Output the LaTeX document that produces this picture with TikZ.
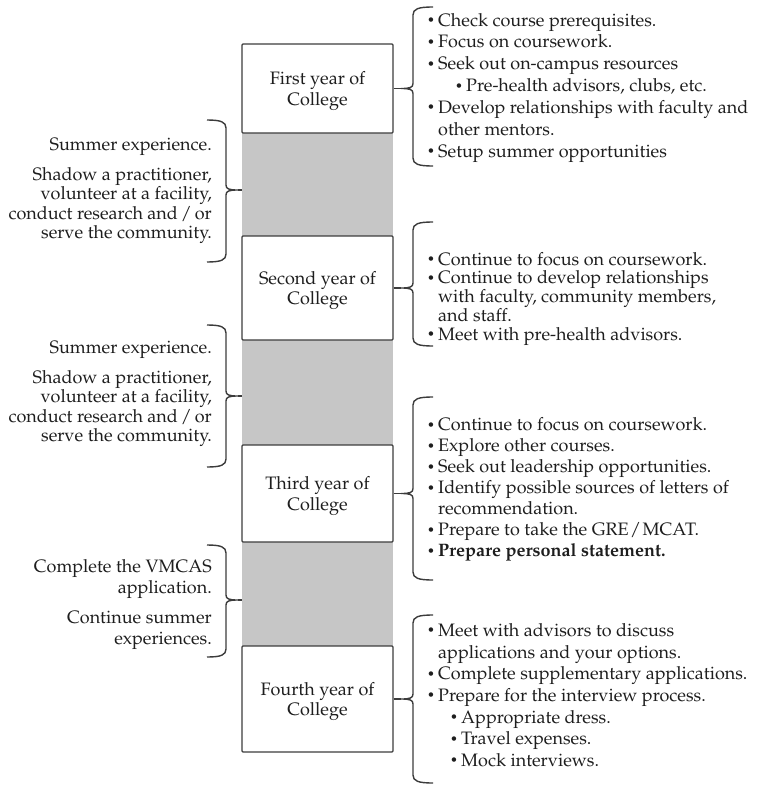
\documentclass[tikz,border=0pt]{standalone}
\usepackage[T1]{fontenc}
\usepackage{mathpazo}
\usepackage{graphicx}
\definecolor{gapgray}{HTML}{C6C6C6}
\definecolor{linegray}{HTML}{3C3C3C}
\definecolor{txt}{HTML}{1E1E1E}
\newcommand{\bul}{\strut\makebox[11pt][l]{\raisebox{0.2ex}{\scalebox{0.72}{\textbullet}}}}
\newcommand{\sbul}{\strut\makebox[11pt][l]{\raisebox{0.2ex}{\scalebox{0.72}{\textbullet}}}}
\newcommand{\ind}{\strut\hspace*{11pt}}
\newcommand{\ts}{\hspace{3pt}}
\newcommand{\RBrace}[4]{%
  \draw[bracestyle] (433,#1) .. controls (418,#1) and (413,#1+2) .. (413,#1+8)
    -- (413,#2-5) .. controls (413,#2-1) and (410,#2) .. (401,#2)
    .. controls (410,#2) and (413,#2+1) .. (413,#2+5)
    -- (413,#3-8) .. controls (413,#3-2) and (418,#3) .. (433,#3);
  \coordinate (#4) at (401,#2);}
\newcommand{\LBrace}[4]{%
  \draw[bracestyle] (207,#1) .. controls (221,#1) and (226,#1+2) .. (226,#1+8)
    -- (226,#2-5) .. controls (226,#2-1) and (229,#2) .. (238,#2)
    .. controls (229,#2) and (226,#2+1) .. (226,#2+5)
    -- (226,#3-8) .. controls (226,#3-2) and (221,#3) .. (207,#3);
  \coordinate (#4) at (238,#2);}
\begin{document}
\begin{tikzpicture}[x=1pt,y=-1pt,
  yearbox/.style={draw=linegray, fill=white, line width=1.1pt, rounded corners=1pt,
    minimum width=151pt, inner sep=0pt, align=center, text=txt, text depth=-3pt,
    font=\fontsize{18}{20.5}\selectfont},
  gapbox/.style={fill=gapgray, draw=none, minimum width=151pt, inner sep=0pt},
  bracestyle/.style={draw=linegray, line width=1.4pt},
  conn/.style={draw=linegray, line width=1.4pt},
  rtext/.style={anchor=north west, align=left, inner sep=0pt, text=txt},
  ltext/.style={anchor=north east, align=right, inner sep=0pt, text=txt}]
\useasboundingbox (0,0) rectangle (756,787);
% gray gaps
\node[gapbox, minimum height=105pt] (g1) at (317.5,184.5) {};
\node[gapbox, minimum height=106pt] (g2) at (317.5,392.5) {};
\node[gapbox, minimum height=106pt] (g3) at (317.5,594) {};
% year boxes
\node[yearbox, minimum height=89pt] (b1) at (317.5,88.5) {First year of\\College};
\node[yearbox, minimum height=104pt] (b2) at (317.5,288) {Second year of\\College};
\node[yearbox, minimum height=97pt] (b3) at (317.5,493.5) {Third year of\\College};
\node[yearbox, minimum height=106pt] (b4) at (317.5,699) {Fourth year of\\College};
% right braces
\RBrace{7}{88.5}{166}{r1}
\RBrace{222}{288}{346}{r2}
\RBrace{397}{493.5}{580}{r3}
\RBrace{615}{699}{783}{r4}
\draw[conn] (b1.east) -- (r1);
\draw[conn] (b2.east) -- (r2);
\draw[conn] (b3.east) -- (r3);
\draw[conn] (b4.east) -- (r4);
% left braces
\LBrace{120}{190}{262}{l1}
\LBrace{325}{396}{467}{l2}
\LBrace{545}{600}{657}{l3}
\draw[conn] (l1) -- (l1 -| g1.west);
\draw[conn] (l2) -- (l2 -| g2.west);
\draw[conn] (l3) -- (l3 -| g3.west);
% right texts
\node[rtext, font=\fontsize{18}{21.9}\selectfont] (t1) at (427,10.5) {%
\bul Check course prerequisites.\\
\bul Focus on coursework.\\
\bul Seek out on-campus resources\\
\hspace*{28pt}\sbul Pre-health advisors, clubs, etc.\\
\bul Develop relationships with faculty and\\
\ind other mentors.\\
\bul Setup summer opportunities};
\node[rtext, font=\fontsize{18}{18.7}\selectfont] (t2) at (427,252) {%
\bul Continue to focus on coursework.\\
\bul Continue to develop relationships\\
\ind with faculty, community members,\\
\ind and staff.\\
\bul Meet with pre-health advisors.};
\node[rtext, font=\fontsize{18}{21}\selectfont] (t3) at (427,416) {%
\bul Continue to focus on coursework.\\
\bul Explore other courses.\\
\bul Seek out leadership opportunities.\\
\bul Identify possible sources of letters of\\
\ind recommendation.\\
\bul Prepare to take the GRE\hspace{1.5pt}/\hspace{1.5pt}MCAT.\\
\bul \textbf{Prepare personal statement.}};
\node[rtext, font=\fontsize{18}{21.7}\selectfont] (t4) at (427,621) {%
\bul Meet with advisors to discuss\\
\ind applications and your options.\\
\bul Complete supplementary applications.\\
\bul Prepare for the interview process.\\
\hspace*{23pt}\sbul Appropriate dress.\\
\hspace*{23pt}\sbul Travel expenses.\\
\hspace*{23pt}\sbul Mock interviews.};
% left texts
\node[ltext, font=\fontsize{18}{19.5}\selectfont] (s1) at (212,138) {%
Summer experience.\\[10pt]
Shadow a practitioner,\\
volunteer at a facility,\\
conduct research and\ts/\ts or\\
serve the community.};
\node[ltext, font=\fontsize{18}{19.5}\selectfont] (s2) at (212,341) {%
Summer experience.\\[10pt]
Shadow a practitioner,\\
volunteer at a facility,\\
conduct research and\ts/\ts or\\
serve the community.};
\node[ltext, font=\fontsize{18}{21}\selectfont] (s3) at (212,559) {%
Complete the VMCAS\\
application.\\[9pt]
Continue summer\\
experiences.};
\end{tikzpicture}
\end{document}
